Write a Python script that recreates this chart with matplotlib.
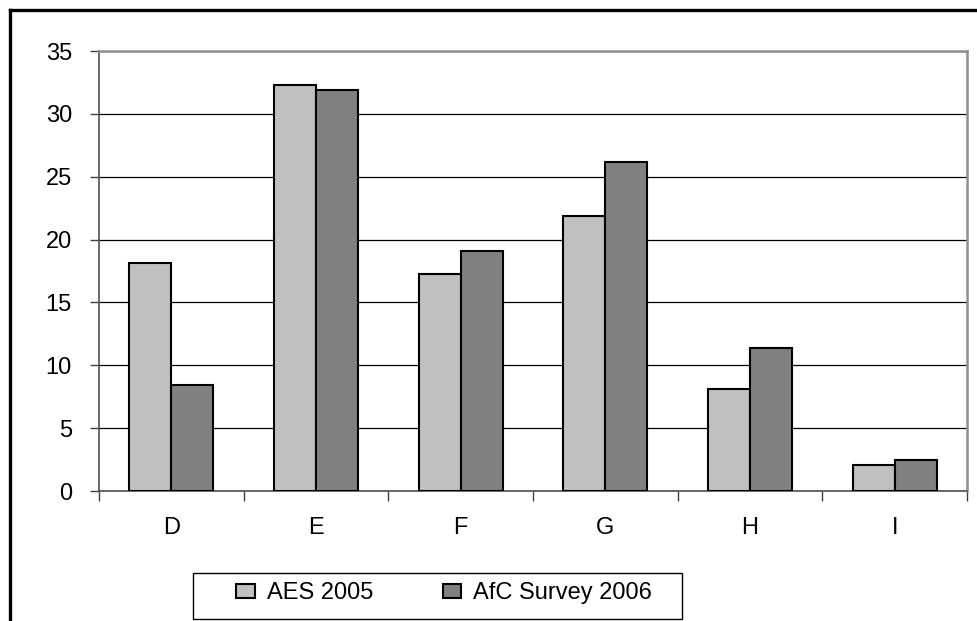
import numpy as np
import matplotlib.pyplot as plt
from matplotlib.lines import Line2D
from matplotlib.patches import Rectangle

# data
categories = ['D', 'E', 'F', 'G', 'H', 'I']
aes_2005 = [18.1, 32.3, 17.3, 21.9, 8.1, 2.1]
afc_2006 = [8.4, 31.9, 19.1, 26.2, 11.4, 2.5]
series_labels = ['AES 2005', 'AfC Survey 2006']
y_ticks = [0, 5, 10, 15, 20, 25, 30, 35]


def main():
    plt.rcParams['font.family'] = ['Liberation Sans', 'DejaVu Sans']

    fig = plt.figure(figsize=(9.78, 6.21), dpi=100)
    ax = fig.add_axes([99 / 978, 130 / 621, 868 / 978, 440 / 621])

    x = np.arange(len(categories))
    width = 0.29
    ax.bar(x - width / 2, aes_2005, width, color='#C0C0C0', edgecolor='black',
           linewidth=1.5, label=series_labels[0], zorder=3)
    ax.bar(x + width / 2, afc_2006, width, color='#808080', edgecolor='black',
           linewidth=1.5, label=series_labels[1], zorder=3)

    ax.set_xlim(-0.5, len(categories) - 0.5)
    ax.set_ylim(0, 35)
    ax.set_yticks(y_ticks)
    ax.yaxis.grid(True, color='black', linewidth=0.9, zorder=0)
    ax.set_axisbelow(True)

    # boundary ticks without labels, category names in between
    ax.set_xticks(np.arange(-0.5, len(categories), 1.0))
    ax.set_xticklabels([])
    ax.set_xticks(x, minor=True)
    ax.set_xticklabels(categories, minor=True)
    ax.tick_params(axis='x', which='major', direction='out', length=7, width=1, color='#404040')
    ax.tick_params(axis='x', which='minor', length=0, pad=19, labelsize=17)
    ax.tick_params(axis='y', direction='out', length=6.5, width=1, pad=13, labelsize=17,
                   color='#404040')

    for side in ['top', 'right']:
        ax.spines[side].set_color('#909090')
        ax.spines[side].set_linewidth(1.8)
    for side in ['left', 'bottom']:
        ax.spines[side].set_color('#505050')
        ax.spines[side].set_linewidth(1.2)

    # legend box
    fig.patches.append(Rectangle((193 / 978, 2 / 621), 489 / 978, 46 / 621,
                                 transform=fig.transFigure, fill=False,
                                 edgecolor='black', linewidth=1.0))
    fig.legend(loc='center', bbox_to_anchor=(444 / 978, 28 / 621), ncol=2,
               frameon=False, fontsize=17, handlelength=0.8, handleheight=0.55,
               handletextpad=0.5, columnspacing=2.95, borderpad=0, borderaxespad=0)

    # outer frame
    fig.add_artist(Line2D([10 / 978, 1.0], [1 - 10 / 621, 1 - 10 / 621],
                          transform=fig.transFigure, color='black', linewidth=2.4))
    fig.add_artist(Line2D([10 / 978, 10 / 978], [0.0, 1 - 10 / 621],
                          transform=fig.transFigure, color='black', linewidth=2.4))

    fig.savefig('out.png', dpi=100)


if __name__ == "__main__":
    main()
